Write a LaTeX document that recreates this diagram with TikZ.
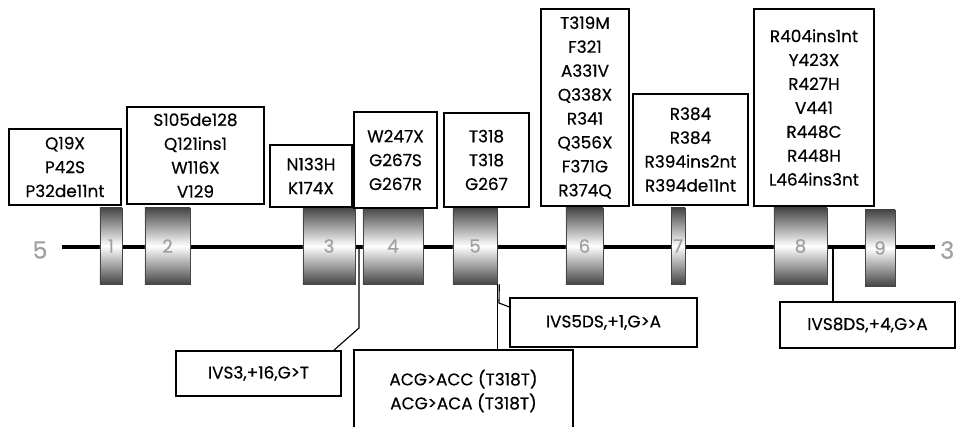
\documentclass[tikz,border=0pt]{standalone}
\usepackage{fontspec}
\setmainfont{Poppins}[FakeBold=0.4]
\usepackage{xcolor}
\definecolor{exd}{RGB}{70,70,70}
\definecolor{nr}{RGB}{160,160,160}

\begin{document}
\begin{tikzpicture}[x=0.025cm, y=-0.025cm, font=\fontsize{12}{17}\selectfont,
                mut/.style={draw, line width=0.8pt, align=center, inner sep=0pt},
                ex/.style={draw=exd, line width=0.4pt, minimum height=1.9cm, inner sep=0pt,
                           top color=exd, bottom color=exd, middle color=white,
                           text=nr, font=\fontsize{13}{13}\selectfont},
                uit/.style={text=nr, font=\fontsize{17}{17}\selectfont}]
            \useasboundingbox (0,0) rectangle (956,427);

            % gen
            \node[uit] (p5) at (40,250) {5};
            \node[uit, anchor=east, inner sep=1pt] (p3) at (956,250) {3};
            \coordinate (l5) at (62,247);
            \coordinate (l3) at (935,247);
            \draw[line width=3.5pt] (l5) -- (l3);

            % exonen
            \node[ex, minimum width=0.55cm] (x1) at (111,246) {1};
            \node[ex, minimum width=1.125cm] (x2) at (167.5,246) {2};
            \node[ex, minimum width=1.3cm] (x3) at (329,246) {3};
            \node[ex, minimum width=1.5cm] (x4) at (393,246) {4};
            \node[ex, minimum width=1.1cm] (x5) at (475,246) {5};
            \node[ex, minimum width=0.925cm] (x6) at (584.5,246) {6};
            \node[ex, minimum width=0.35cm] (x7) at (678,246) {7};
            \node[ex, minimum width=1.325cm] (x8) at (800.5,246) {8};
            \node[ex, minimum width=0.75cm] (x9) at (880,248) {9};

            % mutaties boven
            \node[mut, minimum width=2.8cm, minimum height=1.9cm] (mA) at (65,167) {Q19X\\P42S\\P32de11nt};
            \node[mut, minimum width=3.425cm, minimum height=2.425cm] (mB) at (195.5,155.5) {S105de128\\Q121ins1\\W116X\\V129};
            \node[mut, minimum width=2.05cm, minimum height=1.55cm] (mC) at (311,176) {N133H\\K174X};
            \node[mut, minimum width=2.075cm, minimum height=2.4cm] (mD) at (395.5,160) {W247X\\G267S\\G267R};
            \node[mut, minimum width=2.125cm, minimum height=2.35cm] (mE) at (486.5,160) {T318\\T318\\G267};
            \node[mut, minimum width=2.2cm, minimum height=4.925cm] (mF) at (585,107.5) {T319M\\F321\\A331V\\Q338X\\R341\\Q356X\\F371G\\R374Q};
            \node[mut, minimum width=2.875cm, minimum height=2.775cm] (mG) at (690.5,149.5) {R384\\R384\\R394ins2nt\\R394de11nt};
            \node[mut, minimum width=3cm, minimum height=4.925cm] (mH) at (814,107.5) {R404ins1nt\\Y423X\\R427H\\V441\\R448C\\R448H\\L464ins3nt};

            % mutaties onder
            \node[mut, minimum width=4.125cm, minimum height=1.125cm] (i3) at (258.5,373.5) {IVS3,+16,G>T};
            \node[mut, minimum width=5.475cm, minimum height=2.05cm] (acg) at (463.5,391) {ACG>ACC (T318T)\\ACG>ACA (T318T)};
            \node[mut, minimum width=4.675cm, minimum height=1.225cm] (i5) at (603.5,322.5) {IVS5DS,+1,G>A};
            \node[mut, minimum width=4.375cm, minimum height=1.15cm] (i8) at (867.5,325) {IVS8DS,+4,G>A};

            % verbindingen
            \coordinate (k3a) at (359,248);
            \coordinate (k3b) at (359,328);
            \coordinate (k3c) at (333,351);
            \draw[line width=0.8pt] (k3a) -- (k3b) -- (k3c);
            \draw[line width=0.8pt] (x5.south east) -- (acg.north -| x5.south east);
            \coordinate (k5a) at (499,303);
            \draw[line width=0.8pt] (x5.south east) ++(2,0) -- (k5a) -- (i5.west |- 0,307);
            \coordinate (k8) at (833,248);
            \draw[line width=0.8pt] (k8) -- (k8 |- i8.north);

        \end{tikzpicture}
\end{document}
